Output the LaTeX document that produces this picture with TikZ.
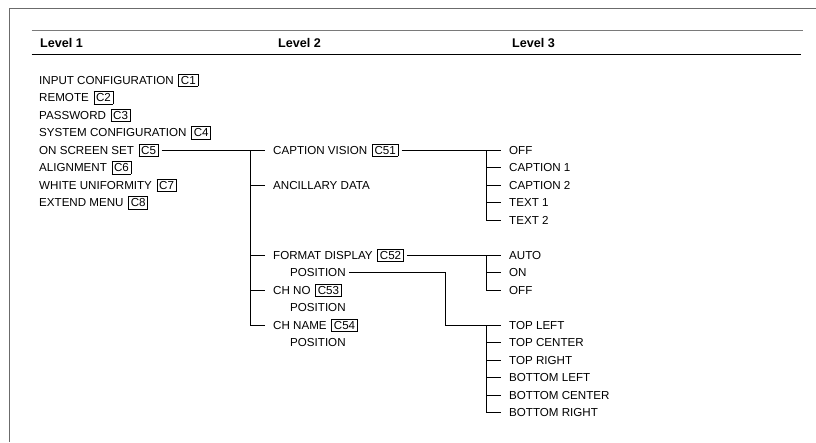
\documentclass[tikz,border=0pt]{standalone}
\usepackage{fontspec}
\setmainfont{Liberation Sans}
\usepackage{tikz}
\usetikzlibrary{positioning, calc}
\definecolor{framegray}{HTML}{6B6B6B}
\definecolor{rulegray}{HTML}{7A7A7A}
\newcommand{\mcode}[1]{\hspace{1.5pt}{\setlength{\fboxsep}{1.8pt}\setlength{\fboxrule}{0.7pt}\fbox{#1}}}

\begin{document}
\begin{tikzpicture}[
    x=1pt, y=-1pt,
    item/.style={
        anchor=west, inner xsep=3pt, inner ysep=1pt,
        text height=8.4pt, text depth=0pt,
        font=\fontsize{11.6}{14}\selectfont
    },
    head/.style={item, font=\fontsize{12.6}{15}\selectfont\bfseries},
    link/.style={line width=0.8pt, shorten >=5pt},
]
\useasboundingbox (0,0) rectangle (816,442);

% ── Frame and header ──────────────────────────────────────────────────────
\draw[framegray, line width=0.9pt] (816,8.3) -- (9.3,8.3) -- (9.3,442);
\draw[rulegray, line width=1.2pt] (31.5,30.7) -- (802.5,30.7);
\draw[line width=1.4pt] (31.5,54.3) -- (801,54.3);
\node[head] (lv1) at (37,43) {Level 1};
\node[head] (lv2) at (275,43) {Level 2};
\node[head] (lv3) at (509,43) {Level 3};

% ── Level 1 ───────────────────────────────────────────────────────────────
\node[item] (inp)  at (36,80)    {INPUT CONFIGURATION \mcode{C1}};
\node[item] (rem)  at (36,97.5)  {REMOTE \mcode{C2}};
\node[item] (pwd)  at (36,115)   {PASSWORD \mcode{C3}};
\node[item] (sys)  at (36,132.5) {SYSTEM CONFIGURATION \mcode{C4}};
\node[item] (osd)  at (36,150)   {ON SCREEN SET \mcode{C5}};
\node[item] (aln)  at (36,167.5) {ALIGNMENT \mcode{C6}};
\node[item] (wht)  at (36,185)   {WHITE UNIFORMITY \mcode{C7}};
\node[item] (ext)  at (36,202.5) {EXTEND MENU \mcode{C8}};

% ── Level 2 ───────────────────────────────────────────────────────────────
\coordinate (bus2) at (250,150);
\node[item] (capvis) at (270,150)   {CAPTION VISION \mcode{C51}};
\node[item] (anc)    at (270,185)   {ANCILLARY DATA};
\node[item] (fmt)    at (270,255)   {FORMAT DISPLAY \mcode{C52}};
\node[item] (fmtpos) at (287,272.5) {POSITION};
\node[item] (chno)   at (270,290)   {CH NO \mcode{C53}};
\node[item] (nopos)  at (287,307.5) {POSITION};
\node[item] (chname) at (270,325)   {CH NAME \mcode{C54}};
\node[item] (nmpos)  at (287,342.5) {POSITION};

% ── Level 3 ───────────────────────────────────────────────────────────────
\coordinate (bus3) at (486,150);
\node[item] (cvoff) at (506,150)   {OFF};
\node[item] (cap1)  at (506,167.5) {CAPTION 1};
\node[item] (cap2)  at (506,185)   {CAPTION 2};
\node[item] (txt1)  at (506,202.5) {TEXT 1};
\node[item] (txt2)  at (506,220)   {TEXT 2};

\node[item] (auto)  at (506,255)   {AUTO};
\node[item] (fon)   at (506,272.5) {ON};
\node[item] (foff)  at (506,290)   {OFF};

\coordinate (pbend) at (445,272.5);
\node[item] (tl) at (506,325)   {TOP LEFT};
\node[item] (tc) at (506,342.5) {TOP CENTER};
\node[item] (tr) at (506,360)   {TOP RIGHT};
\node[item] (bl) at (506,377.5) {BOTTOM LEFT};
\node[item] (bc) at (506,395)   {BOTTOM CENTER};
\node[item] (br) at (506,412.5) {BOTTOM RIGHT};

% ── Connectors ────────────────────────────────────────────────────────────
\draw[link] (osd.east) -- (capvis.west);
\draw[link] (bus2) |- (anc.west);
\draw[link] (bus2) |- (fmt.west);
\draw[link] (bus2) |- (chno.west);
\draw[link] (bus2) |- (chname.west);

\draw[link] (capvis.east) -- (cvoff.west);
\draw[link] (bus3) |- (cap1.west);
\draw[link] (bus3) |- (cap2.west);
\draw[link] (bus3) |- (txt1.west);
\draw[link] (bus3) |- (txt2.west);

\draw[link] (fmt.east) -- (auto.west);
\draw[link] (bus3 |- auto.west) |- (fon.west);
\draw[link] (bus3 |- auto.west) |- (foff.west);

\draw[link] (fmtpos.east) -| (pbend |- tl.west) -- (tl.west);
\draw[link] (bus3 |- tl.west) |- (tc.west);
\draw[link] (bus3 |- tl.west) |- (tr.west);
\draw[link] (bus3 |- tl.west) |- (bl.west);
\draw[link] (bus3 |- tl.west) |- (bc.west);
\draw[link] (bus3 |- tl.west) |- (br.west);

\end{tikzpicture}
\end{document}
